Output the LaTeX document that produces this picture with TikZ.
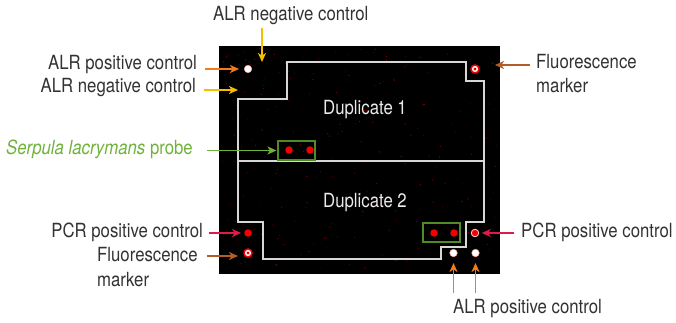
\documentclass[tikz,border=0pt]{standalone}
\usepackage{fontspec}
\setmainfont[FakeStretch=0.86]{TeX Gyre Heros}
\usetikzlibrary{arrows.meta}

\definecolor{cyel}{RGB}{247,190,0}
\definecolor{corg}{RGB}{242,122,24}
\definecolor{cbrn}{RGB}{180,92,38}
\definecolor{ccrim}{RGB}{222,28,72}
\definecolor{cgrn}{RGB}{112,178,60}
\definecolor{cbox}{RGB}{78,140,38}
\definecolor{ctxt}{RGB}{50,50,50}
\definecolor{spot}{RGB}{245,0,0}
\definecolor{speck}{RGB}{120,0,0}
\definecolor{outl}{RGB}{215,215,215}

\tikzset{
  lbl/.style={inner sep=0pt, text=ctxt, font=\fontsize{19.5}{24}\selectfont},
  dup/.style={inner sep=0pt, text=white!92!black, font=\fontsize{19.5}{24}\selectfont},
  arr/.style={line width=1.8pt, -{Stealth[length=9pt,width=8pt,inset=2.5pt]}},
  outline/.style={draw=outl, line width=1.3pt},
  probebox/.style={draw=cbox, line width=1.1pt, inner sep=0pt, minimum width=37pt, minimum height=19pt},
  alrdot/.style={circle, inner sep=0pt, minimum size=7.5pt, fill=white, draw=red!35, line width=0.5pt},
  pcrdot/.style={circle, inner sep=0pt, minimum size=7.5pt, fill=spot},
  pcrring/.style={circle, inner sep=0pt, minimum size=7.5pt, fill=spot, draw=white!75!red, line width=0.9pt},
  fluordot/.style={circle, inner sep=0pt, minimum size=8pt, fill=white, draw=spot, line width=1.5pt,
    path picture={\fill[spot] (path picture bounding box.center) circle (1.7pt);}},
}

\begin{document}
\begin{tikzpicture}[x=1pt,y=-1pt]
\useasboundingbox (0,0) rectangle (676,323);

% scanned array area with faint red specks
\fill[black] (219,46) rectangle (500,274);
\pgfmathsetseed{42}
\foreach \k in {1,...,260}{
  \pgfmathsetmacro{\sx}{221+277*rnd}
  \pgfmathsetmacro{\sy}{48+224*rnd}
  \pgfmathsetmacro{\sr}{0.3+0.45*rnd}
  \fill[speck] (\sx,\sy) circle (\sr pt);
}

% outline of the two duplicate fields
\draw[outline] (238,99) -- (287,99) -- (287,62) -- (466,62) -- (466,81) -- (484,81)
  -- (484,222) -- (466,222) -- (466,247) -- (441,247) -- (441,259) -- (263,259)
  -- (263,222) -- (238,222) -- cycle;
\draw[outline] (238,161) -- (484,161);

\node[dup, anchor=base] (dup1) at (365,115) {Duplicate 1};
\node[dup, anchor=base] (dup2) at (365,207) {Duplicate 2};

% spots
\node[alrdot] (dapl) at (248,69) {};
\node[fluordot] (dfr) at (475,69) {};
\node[probebox] (pb1) at (296.5,150.5) {};
\node[pcrdot] at (289,150) {};
\node[pcrdot] at (310,150) {};
\node[probebox] (pb2) at (441.5,232.5) {};
\node[pcrdot] at (434,233) {};
\node[pcrdot] at (454,233) {};
\node[pcrdot] (dpcl) at (248,233) {};
\node[fluordot] (dfl) at (248,253) {};
\node[pcrring] (dpcr) at (475,233) {};
\node[alrdot] (dab1) at (453.5,253) {};
\node[alrdot] (dab2) at (475.5,253) {};

% free arrow ends
\coordinate (tnT) at (262,62);
\coordinate (tnL) at (238,90);
\coordinate (tfL) at (238,256);
\coordinate (tfR) at (495,65);

% labels
\node[lbl, anchor=base west] (ltneg) at (213,21) {ALR negative control};
\node[lbl, anchor=base east] (lapl) at (197,70) {ALR positive control};
\node[lbl, anchor=base east] (lanl) at (196,93) {ALR negative control};
\node[lbl, anchor=base east, text=cgrn] (lsp) at (193,154) {\textit{Serpula lacrymans} probe};
\node[lbl, anchor=base east] (lpcl) at (203,237) {PCR positive control};
\node[lbl, anchor=base west] (lfl1) at (97,261) {Fluorescence};
\node[lbl, anchor=base west] (lfl1b) at (97,286) {marker};
\node[lbl, anchor=base west] (lfr) at (536,69) {Fluorescence};
\node[lbl, anchor=base west] (lfrb) at (536,93) {marker};
\node[lbl, anchor=base west] (lpcr) at (521,237) {PCR positive control};
\node[lbl, anchor=base west] (lapb) at (453,313) {ALR positive control};

% arrows
\draw[arr, cyel, shorten <=3pt] (tnT |- ltneg.south) -- (tnT);
\draw[arr, corg, shorten <=8pt, shorten >=5pt] (lapl.east |- dapl) -- (dapl.west);
\draw[arr, cyel, shorten <=8pt] (lanl.east |- tnL) -- (tnL);
\draw[arr, cgrn, shorten <=14pt, shorten >=1pt] (lsp.east |- pb1) -- (pb1.west);
\draw[arr, ccrim, shorten <=6pt, shorten >=3pt] (lpcl.east |- dpcl) -- (dpcl.west);
\draw[arr, cbrn, shorten <=9pt] (lfl1.east |- tfL) -- (tfL);
\draw[arr, cbrn, shorten <=6pt] (lfr.west |- tfR) -- (tfR);
\draw[arr, ccrim, shorten <=7pt, shorten >=2.5pt] (lpcr.west |- dpcr) -- (dpcr.east);
\draw[arr, corg, shorten <=6pt, shorten >=6pt] (dab1 |- lapb.north) -- (dab1.south);
\draw[arr, corg, shorten <=6pt, shorten >=6pt] (dab2 |- lapb.north) -- (dab2.south);
\end{tikzpicture}
\end{document}
